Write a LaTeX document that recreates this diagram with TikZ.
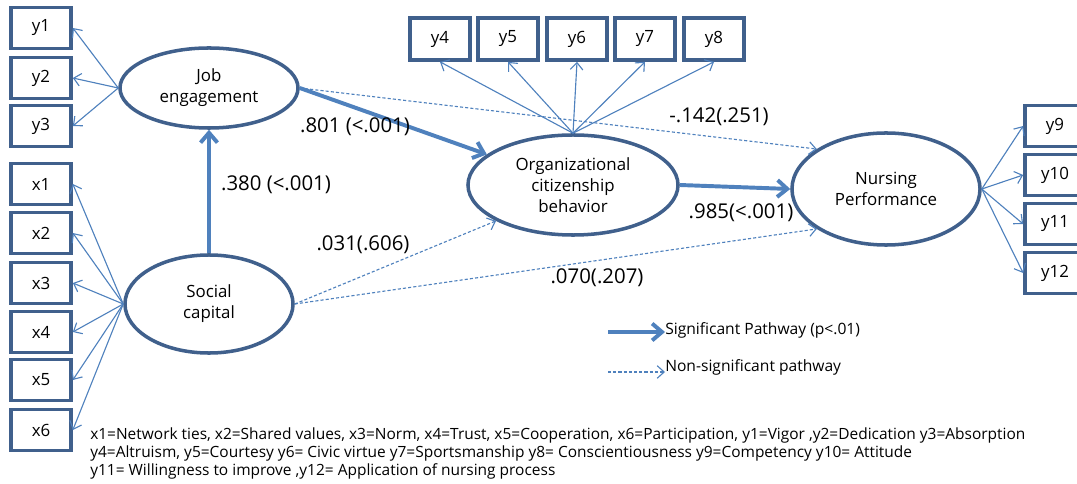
\documentclass[tikz,border=0pt]{standalone}
\usepackage{fontspec}
\setmainfont{Open Sans}
\usetikzlibrary{shapes.geometric,arrows.meta}
\definecolor{frameblue}{RGB}{64,96,140}
\definecolor{pathblue}{RGB}{79,129,189}

\begin{document}
\begin{tikzpicture}[
  x=0.025cm, y=-0.025cm,
  font=\fontsize{12}{15}\selectfont,
  latent/.style={ellipse, draw=frameblue, line width=2.5pt, inner sep=0pt, align=center},
  item/.style={rectangle, draw=frameblue, line width=2.6pt, minimum width=1.5cm, minimum height=1.02cm, inner sep=0pt},
  load/.style={-{Straight Barb[length=5pt,width=9pt]}, pathblue, line width=0.8pt},
  sig/.style={-{Straight Barb[length=7pt,width=12pt]}, pathblue, line width=2.8pt},
  nonsig/.style={-{Straight Barb[length=5pt,width=9pt]}, pathblue, line width=0.8pt, dash pattern=on 2.2pt off 1.5pt},
  coef/.style={font=\fontsize{14.5}{17}\selectfont, inner sep=0pt},
  legend/.style={font=\fontsize{11.1}{14}\selectfont, anchor=west, inner sep=0pt}
]
\useasboundingbox (0,0) rectangle (1077,484);

% Latent variables
\node[latent, minimum width=4.45cm, minimum height=2cm] (job) at (209,88) {Job\\engagement};
\node[latent, minimum width=4.2cm, minimum height=2.45cm] (social) at (209,304) {Social\\capital};
\node[latent, minimum width=5.25cm, minimum height=2.5cm] (ocb) at (573,185) {Organizational\\citizenship\\behavior};
\node[latent, minimum width=4.7cm, minimum height=2.8cm] (perf) at (886,189) {Nursing\\Performance};

% Observed variables
\foreach \i/\y in {1/28,2/78,3/126} {
  \node[item] (y\i) at (41,\y) {y\i};
}
\foreach \i/\y in {1/184,2/233,3/283,4/332,5/380,6/430} {
  \node[item] (x\i) at (41,\y) {x\i};
}
\foreach \i/\x in {4/440,5/508,6/577,7/645,8/714} {
  \node[item, minimum height=1.05cm] (y\i) at (\x,39) {y\i};
}
\foreach \i/\y in {9/126,10/175,11/224,12/273} {
  \node[item] (y\i) at (1055,\y) {y\i};
}

% Loadings
\foreach \i in {1,2,3} {
  \draw[load] (job.west) -- (y\i.east);
}
\foreach \i in {1,...,6} {
  \draw[load] (social.west) -- (x\i.east);
}
\foreach \i in {4,...,8} {
  \draw[load] (ocb.north) -- (y\i.south);
}
\foreach \i in {9,...,12} {
  \draw[load] (perf.east) -- (y\i.west);
}

% Structural paths
\draw[sig] (social) -- (job);
\draw[sig] (job.east) -- (ocb);
\draw[sig] (ocb.east) -- (perf.west);
\draw[nonsig] (job.east) -- (perf.150);
\draw[nonsig] (social.east) -- (ocb.205);
\draw[nonsig] (social.east) -- (perf.210);

% Coefficients
\node[coef] (c380) at (276,185) {.380 (<.001)};
\node[coef] (c801) at (355,127) {.801 (<.001)};
\node[coef] (c142) at (719,117) {-.142(.251)};
\node[coef] (c031) at (363,245) {.031(.606)};
\node[coef] (c985) at (741,213) {.985(<.001)};
\node[coef] (c070) at (597,278) {.070(.207)};

% Legend
\coordinate (sigA) at (608,332);
\coordinate (sigB) at (665,332);
\draw[sig] (sigA) -- (sigB);
\node[legend] (sigtext) at (665,330) {Significant Pathway (p<.01)};
\coordinate (nsA) at (608,372);
\coordinate (nsB) at (665,372);
\draw[nonsig] (nsA) -- (nsB);
\node[legend] (nstext) at (665,367) {Non-significant pathway};

% Note
\node[anchor=north west, align=left, inner sep=0pt, font=\fontsize{11}{13}\selectfont] (note) at (90,427)
  {x1=Network ties, x2=Shared values, x3=Norm, x4=Trust, x5=Cooperation, x6=Participation, y1=Vigor ,y2=Dedication y3=Absorption\\
   y4=Altruism, y5=Courtesy y6= Civic virtue y7=Sportsmanship y8= Conscientiousness y9=Competency y10= Attitude\\
   y11= Willingness to improve ,y12= Application of nursing process};

\end{tikzpicture}
\end{document}
